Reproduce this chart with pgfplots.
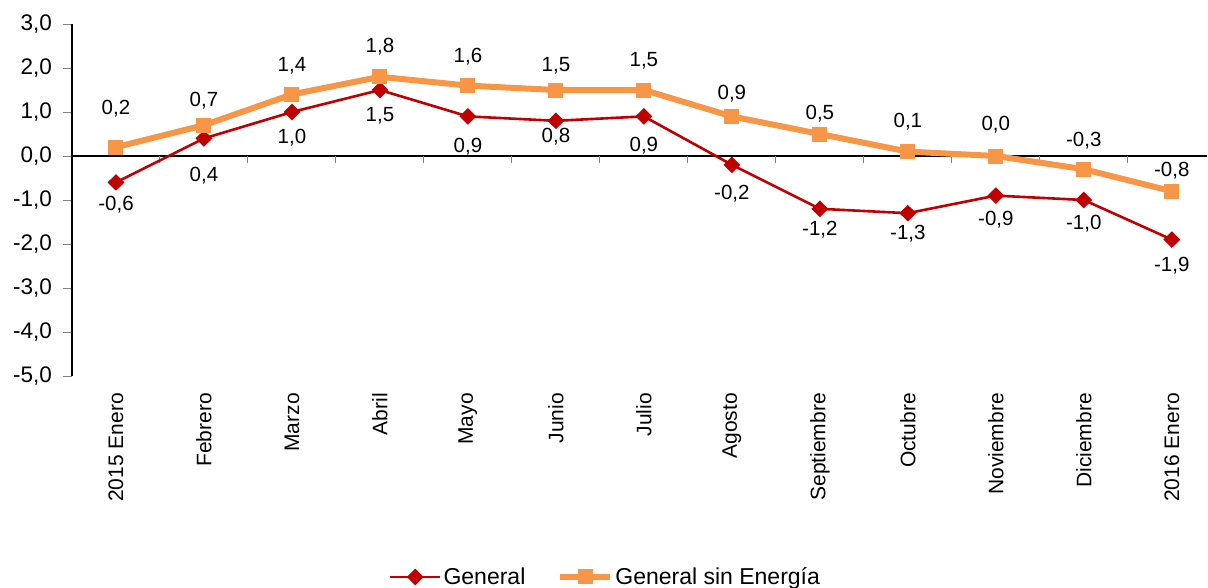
\documentclass[border=0pt]{standalone}
\usepackage{pgfplots}
\usepackage{pgfplotstable}
\pgfplotsset{compat=1.18}
\usepackage{fontspec}
\setmainfont{Liberation Sans}
\definecolor{gen}{RGB}{192,0,0}
\definecolor{sinE}{RGB}{247,150,70}
\pgfplotstableread{
x y off
0 -0.6 -22
1 0.4 -37
2 1.0 -26
3 1.5 -26
4 0.9 -30
5 0.8 -16
6 0.9 -29
7 -0.2 -29
8 -1.2 -21
9 -1.3 -20
10 -0.9 -24
11 -1.0 -24
12 -1.9 -26
}\general
\pgfplotstableread{
x y off
0 0.2 39
1 0.7 25
2 1.4 29
3 1.8 30
4 1.6 29
5 1.5 24
6 1.5 29
7 0.9 23
8 0.5 20
9 0.1 30
10 0.0 31
11 -0.3 29
12 -0.8 21
}\sinenergia
\begin{document}
\begin{tikzpicture}
\useasboundingbox (0,0) rectangle (1208bp,588bp);
\begin{axis}[
  at={(72bp,212bp)}, anchor=south west,
  scale only axis, width=1135bp, height=352bp,
  xmin=-0.5, xmax=12.4, ymin=-5, ymax=3,
  axis y line=left, axis x line=bottom,
  x axis line style={draw=none},
  y axis line style={-, black, line width=1.2bp},
  xtick={0,...,12},
  xticklabels={2015 Enero,Febrero,Marzo,Abril,Mayo,Junio,Julio,Agosto,Septiembre,Octubre,Noviembre,Diciembre,2016 Enero},
  major x tick style={draw=none},
  xticklabel style={rotate=90, anchor=east, font=\fontsize{21bp}{24bp}\selectfont, inner sep=0pt, xshift=-8bp},
  ytick={-5,...,3}, tick align=outside,
  major y tick style={gray, line width=1bp},
  major tick length=9bp,
  yticklabel style={font=\fontsize{22.5bp}{26bp}\selectfont, inner sep=0pt, xshift=-11bp},
  /pgf/number format/.cd, use comma, fixed, fixed zerofill, precision=1, assume math mode=true,
  /pgfplots/.cd,
  clip=false,
  legend columns=2,
  legend style={draw=none, at={(0.47,-0.571)}, anchor=center, font=\fontsize{23bp}{26bp}\selectfont,
    /tikz/every even column/.append style={column sep=30bp}},
  legend image code/.code={\draw[mark repeat=2,mark phase=2] plot coordinates {(0bp,0bp) (25bp,0bp) (50bp,0bp)};},
  nodes near coords,
  point meta=\thisrow{y},
  visualization depends on={\thisrow{off} \as \off},
  every node near coord/.append style={font=\fontsize{20.5bp}{24bp}\selectfont, text=black, inner sep=0pt, anchor=center, yshift=\off bp},
]
\draw[black, line width=1.2bp] (axis cs:-0.5,0) -- (axis cs:12.4,0);
\pgfplotsinvokeforeach{0.5,1.5,2.5,3.5,4.5,5.5,6.5,7.5,8.5,9.5,10.5,11.5}{
  \draw[gray, line width=1bp] (axis cs:#1,0) -- ([yshift=-7bp]axis cs:#1,0);
}
\addplot[gen, line width=2.6bp, mark=diamond*, mark size=6.5bp, mark options={xscale=1.35}]
  table[x=x, y=y] {\general};
\addlegendentry{General}
\addplot[sinE, line width=6bp, mark=square*, mark size=7bp, mark options={line width=0pt}]
  table[x=x, y=y] {\sinenergia};
\addlegendentry{General sin Energía}
\end{axis}
\end{tikzpicture}
\end{document}
